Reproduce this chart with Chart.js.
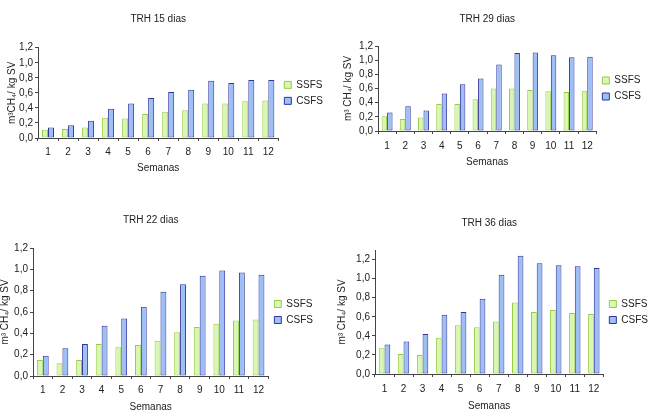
<!DOCTYPE html>
<html><head><meta charset="utf-8">
<script src="https://cdn.jsdelivr.net/npm/chart.js@4/dist/chart.umd.min.js"></script>
<style>
html,body{margin:0;padding:0;background:#fff;width:649px;height:414px;overflow:hidden;position:relative}
canvas{position:absolute}
</style></head><body>
<canvas id="c1"></canvas><canvas id="c2"></canvas><canvas id="c3"></canvas><canvas id="c4"></canvas>
<script>
// ---- data ----
const semanas = ['1','2','3','4','5','6','7','8','9','10','11','12'];
const seriesNames = ['SSFS','CSFS'];
const titles = ['TRH 15 dias','TRH 29 dias','TRH 22 dias','TRH 36 dias'];
const yTitles = ['m\u00B3CH\u2084/ kg SV','m\u00B3 CH\u2084/ kg SV','m\u00B3 CH\u2084/ kg SV','m\u00B3 CH\u2084/ kg SV'];
const xTitle = 'Semanas';
const yTickValues = [0,0.2,0.4,0.6,0.8,1.0,1.2];

const ssfs15 = [0.11,0.12,0.14,0.27,0.26,0.32,0.35,0.37,0.46,0.46,0.49,0.50];
const csfs15 = [0.14,0.17,0.23,0.39,0.46,0.53,0.61,0.64,0.76,0.73,0.77,0.77];
const ssfs29 = [0.21,0.17,0.19,0.38,0.38,0.45,0.60,0.60,0.58,0.56,0.55,0.57];
const csfs29 = [0.26,0.35,0.29,0.53,0.66,0.74,0.94,1.10,1.11,1.07,1.04,1.05];
const ssfs22 = [0.15,0.12,0.15,0.30,0.27,0.29,0.33,0.41,0.46,0.49,0.52,0.53];
const csfs22 = [0.19,0.26,0.30,0.47,0.54,0.65,0.79,0.86,0.94,0.99,0.97,0.95];
const ssfs36 = [0.27,0.21,0.20,0.38,0.51,0.49,0.55,0.75,0.65,0.67,0.64,0.63];
const csfs36 = [0.31,0.34,0.42,0.62,0.65,0.79,1.04,1.24,1.16,1.14,1.13,1.11];
const yMaxes = [1.2,1.2,1.2,1.3];

// ---- layout (positions / sizes) ----
const layouts = [
  {id:'c1', left:0,   top:0,   w:333, h:207, yW:38, yTP:6,  tPT:13, tPB:22.7, xH:40, xTickPad:5, xTPB:4, padB:29},
  {id:'c2', left:330, top:0,   w:321, h:207, yW:48, yTP:12, tPT:13, tPB:21,   xH:40, xTickPad:6, xTPB:3, padB:36},
  {id:'c3', left:-1,  top:207, w:324, h:207, yW:34, yTP:0,  tPT:7,  tPB:22,   xH:38, xTickPad:5, xTPB:1, padB:0},
  {id:'c4', left:330, top:207, w:328, h:207, yW:45, yTP:6,  tPT:10, tPB:21,   xH:40, xTickPad:6, xTPB:2, padB:0}
];
const seriesData = [[ssfs15,csfs15],[ssfs29,csfs29],[ssfs22,csfs22],[ssfs36,csfs36]];

const FONT = 'Liberation Sans, Arial, sans-serif';
const TXT = '#222';
const AXIS = '#444';
const fills = ['#d8f7b2','#9cc0f6'];
const borders = ['#99cc44','#333399'];

layouts.forEach((L, i) => {
  const cv = document.getElementById(L.id);
  cv.width = L.w; cv.height = L.h;
  cv.style.left = L.left + 'px'; cv.style.top = L.top + 'px';
  new Chart(cv, {
    type: 'bar',
    data: {
      labels: semanas,
      datasets: seriesNames.map((n, k) => ({
        label: n,
        data: seriesData[i][k],
        backgroundColor: fills[k],
        borderColor: borders[k],
        borderWidth: 1,
        borderSkipped: false,
        categoryPercentage: 0.6,
        barPercentage: 1.0
      }))
    },
    options: {
      responsive: false,
      animation: false,
      devicePixelRatio: 1,
      layout: {padding: {left:0, right:0, top:0, bottom:L.padB}},
      plugins: {
        tooltip: {enabled:false},
        title: {
          display: true, text: titles[i], fullSize: false,
          color: TXT, font: {family: FONT, size: 10, weight: 'normal'},
          padding: {top: L.tPT, bottom: L.tPB}
        },
        legend: {
          position: 'right', fullSize: false,
          labels: {boxWidth: 7, boxHeight: 7, padding: 6, color: TXT,
                   font: {family: FONT, size: 10}}
        }
      },
      scales: {
        x: {
          grid: {display: true, drawOnChartArea: false, drawTicks: true, tickLength: 3, color: AXIS, offset: true},
          border: {display: true, color: AXIS, width: 1},
          ticks: {color: TXT, font: {family: FONT, size: 10}, padding: L.xTickPad, maxRotation: 0, autoSkip: false},
          title: {display: true, text: xTitle, color: TXT, font: {family: FONT, size: 10}, padding: {top: 0, bottom: L.xTPB}},
          afterFit: s => { s.height = L.xH; }
        },
        y: {
          min: 0, max: yMaxes[i],
          grid: {display: true, drawOnChartArea: false, drawTicks: true, tickLength: 3, color: AXIS},
          border: {display: true, color: AXIS, width: 1},
          ticks: {stepSize: 0.2, autoSkip: false, color: TXT, font: {family: FONT, size: 10}, padding: 2,
                  callback: v => v.toFixed(1).replace('.', ',')},
          afterBuildTicks: s => { s.ticks = yTickValues.filter(v => v <= yMaxes[i] + 1e-9).map(v => ({value: v})); },
          title: {display: true, text: yTitles[i], color: TXT, font: {family: FONT, size: 10}, padding: {top: L.yTP, bottom: 0}},
          afterFit: s => { s.width = L.yW; }
        }
      }
    }
  });
});
</script>
</body></html>
